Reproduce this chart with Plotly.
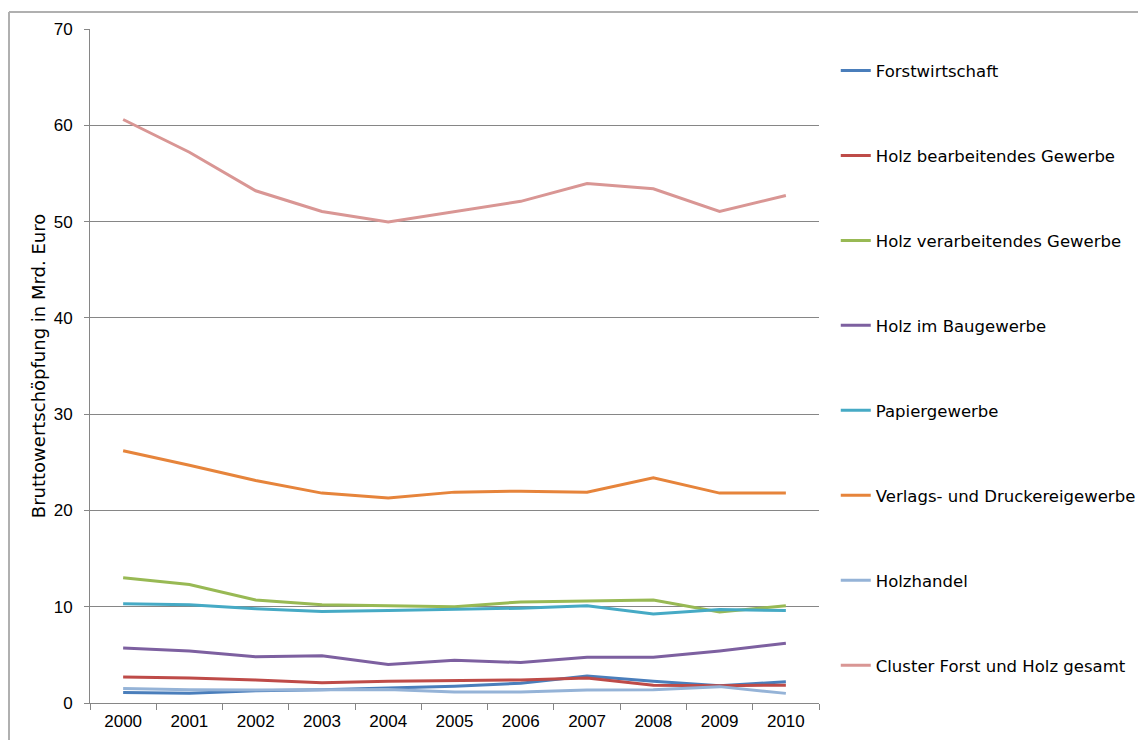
import plotly.graph_objects as go

years = ["2000", "2001", "2002", "2003", "2004", "2005", "2006", "2007", "2008", "2009", "2010"]

forstwirtschaft = [1.1, 1.0, 1.27, 1.37, 1.55, 1.75, 2.05, 2.8, 2.25, 1.8, 2.2]
holz_bearbeitend = [2.7, 2.6, 2.4, 2.1, 2.25, 2.35, 2.4, 2.6, 1.85, 1.8, 1.85]
holz_verarbeitend = [13.0, 12.3, 10.7, 10.2, 10.1, 10.0, 10.5, 10.6, 10.7, 9.45, 10.1]
holz_baugewerbe = [5.7, 5.4, 4.8, 4.9, 4.0, 4.45, 4.2, 4.75, 4.75, 5.4, 6.2]
papiergewerbe = [10.3, 10.2, 9.8, 9.5, 9.6, 9.7, 9.85, 10.1, 9.25, 9.7, 9.6]
verlags_druck = [26.2, 24.7, 23.1, 21.8, 21.3, 21.9, 22.0, 21.9, 23.4, 21.8, 21.8]
holzhandel = [1.5, 1.37, 1.35, 1.37, 1.4, 1.14, 1.14, 1.35, 1.37, 1.7, 1.0]
cluster_gesamt = [60.6, 57.2, 53.2, 51.05, 49.95, 51.05, 52.1, 53.95, 53.4, 51.05, 52.7]

series_names = [
    "Forstwirtschaft",
    "Holz bearbeitendes Gewerbe",
    "Holz verarbeitendes Gewerbe",
    "Holz im Baugewerbe",
    "Papiergewerbe",
    "Verlags- und Druckereigewerbe",
    "Holzhandel",
    "Cluster Forst und Holz gesamt",
]
series_values = [forstwirtschaft, holz_bearbeitend, holz_verarbeitend, holz_baugewerbe,
                 papiergewerbe, verlags_druck, holzhandel, cluster_gesamt]
colors = ["#4a7ebb", "#be4b48", "#98b954", "#7d60a0", "#46aac5", "#e6843b", "#95b3d7", "#d99694"]

y_ticks = [0, 10, 20, 30, 40, 50, 60, 70]

fig = go.Figure()
for i, (name, vals, col) in enumerate(zip(series_names, series_values, colors)):
    fig.add_trace(go.Scatter(
        x=years, y=vals, name=name, mode="lines",
        line=dict(color=col, width=3),
        legendgroup=f"g{i}",
    ))

fig.update_layout(
    width=1146, height=740,
    margin=dict(l=82, r=335, t=18, b=45),
    paper_bgcolor="white", plot_bgcolor="white",
    font=dict(family="Liberation Sans, Arial, sans-serif", size=17, color="black"),
    showlegend=True,
    legend=dict(
        x=1.023, xanchor="left", y=0.964, yanchor="top",
        tracegroupgap=60.5,
        font=dict(family="DejaVu Sans, sans-serif", size=16.5, color="black"),
        itemwidth=30,
        bgcolor="rgba(0,0,0,0)",
    ),
    xaxis=dict(
        type="category",
        range=[-0.5, 10.5],
        showgrid=False,
        showline=True, linecolor="#868686", linewidth=1,
        ticks="outside", ticklen=6, tickcolor="#868686",
        tickson="boundaries",
        tickfont=dict(size=17),
        ticklabelstandoff=3,
        zeroline=False,
    ),
    yaxis=dict(
        range=[0, 70],
        tickvals=y_ticks,
        showgrid=True, gridcolor="#868686", gridwidth=1,
        showline=True, linecolor="#868686", linewidth=1,
        ticks="outside", ticklen=5, tickcolor="#868686",
        tickfont=dict(size=17),
        ticklabelstandoff=8,
        zeroline=False,
        title=dict(text="Bruttowertschöpfung in Mrd. Euro",
                   font=dict(family="DejaVu Sans, sans-serif", size=18), standoff=3),
    ),
    shapes=[
        dict(type="line", xref="paper", yref="paper",
             x0=-0.1111, x1=1.6, y0=1.0251, y1=1.0251,
             line=dict(color="#b0b0b0", width=2)),
        dict(type="line", xref="paper", yref="paper",
             x0=-0.1111, x1=-0.1111, y0=1.0251, y1=-0.1,
             line=dict(color="#b0b0b0", width=2)),
    ],
)

fig.write_html("out.html")
